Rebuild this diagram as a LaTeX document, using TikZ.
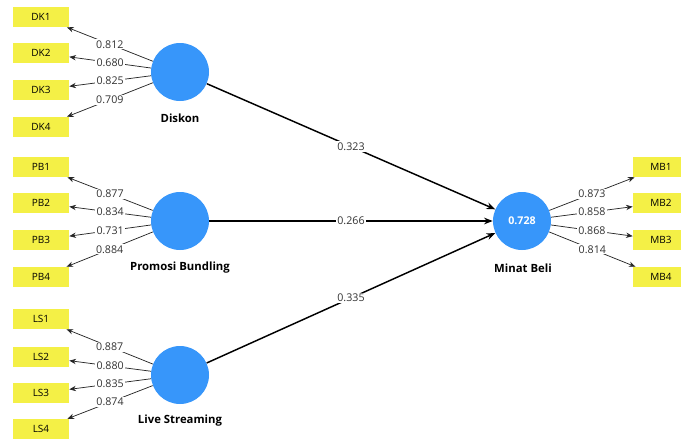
\documentclass[tikz,border=0pt]{standalone}
\usepackage{fontspec}
\setmainfont{Open Sans}
\usetikzlibrary{arrows.meta}
\definecolor{lvblue}{RGB}{55,150,250}
\definecolor{mvyellow}{RGB}{244,240,70}
\tikzset{
  latent/.style={circle, fill=lvblue, minimum size=43.5pt, inner sep=0pt, text=white, font=\bfseries\fontsize{8}{9}\selectfont},
  indicator/.style={rectangle, fill=mvyellow, minimum width=42pt, minimum height=15pt, inner sep=0pt, font=\fontsize{7.5}{9}\selectfont},
  lvname/.style={font=\bfseries\fontsize{8.5}{10}\selectfont},
  loading/.style={-{Stealth[length=5pt,width=4pt]}, draw=black!85, line width=0.55pt},
  pathcoef/.style={-{Stealth[length=6.5pt,width=5pt]}, line width=1.1pt},
  val/.style={fill=white, inner sep=0.8pt, text=black!80, font=\fontsize{8}{9}\selectfont},
}
\begin{document}
\begin{tikzpicture}[x=0.75pt, y=-0.75pt, line join=round]
\useasboundingbox (0,0) rectangle (681,439);
%Biến tiềm ẩn
\node[latent] (diskon) at (180,72) {};
\node[latent] (promosi) at (180,221) {};
\node[latent] (live) at (180,375) {};
\node[latent] (minat) at (522,221) {0.728};
\node[lvname] (diskonname) at (180,118) {Diskon};
\node[lvname] (promosiname) at (180,268) {Promosi Bundling};
\node[lvname] (livename) at (180,421) {Live Streaming};
\node[lvname] (minatname) at (523,268) {Minat Beli};
%Các chỉ báo
\foreach \i/\y in {1/17,2/53,3/90,4/127}
  \node[indicator] (DK\i) at (41,\y) {DK\i};
\foreach \i/\y in {1/167,2/203,3/240,4/277}
  \node[indicator] (PB\i) at (41,\y) {PB\i};
\foreach \i/\y in {1/319,2/357,3/393,4/429}
  \node[indicator] (LS\i) at (41,\y) {LS\i};
\foreach \i/\y in {1/167,2/203,3/240,4/277}
  \node[indicator] (MB\i) at (661,\y) {MB\i};
%Hệ số tải
\foreach \i/\v in {1/0.812,2/0.680,3/0.825,4/0.709}
  \draw[loading] (diskon) -- node[val]{\v} (DK\i);
\foreach \i/\v in {1/0.877,2/0.834,3/0.731,4/0.884}
  \draw[loading] (promosi) -- node[val]{\v} (PB\i);
\foreach \i/\v in {1/0.887,2/0.880,3/0.835,4/0.874}
  \draw[loading] (live) -- node[val]{\v} (LS\i);
\foreach \i/\v in {1/0.873,2/0.858,3/0.868,4/0.814}
  \draw[loading] (minat) -- node[val]{\v} (MB\i);
%Hệ số đường dẫn
\draw[pathcoef] (diskon) -- node[val]{0.323} (minat);
\draw[pathcoef] (promosi) -- node[val]{0.266} (minat);
\draw[pathcoef] (live) -- node[val]{0.335} (minat);
\end{tikzpicture}
\end{document}
